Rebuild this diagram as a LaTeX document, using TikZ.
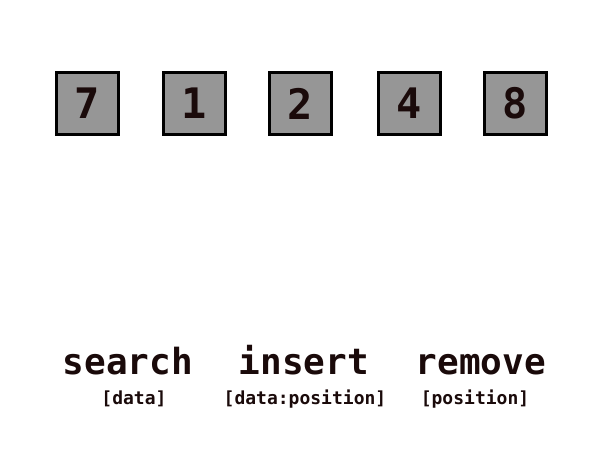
\documentclass[tikz,border=0pt]{standalone}
\usepackage{fontspec}
\setmonofont{DejaVu Sans Mono}
\definecolor{boxgray}{HTML}{969696}
\definecolor{ink}{HTML}{1A0A0A}
\begin{document}
\begin{tikzpicture}[x=1pt,y=-1pt,
  cell/.style={draw=black,line width=3pt,fill=boxgray,minimum width=62pt,minimum height=62pt,inner sep=0pt,
    font=\ttfamily\bfseries\fontsize{42}{42}\selectfont,text=ink},
  op/.style={font=\ttfamily\bfseries\fontsize{36}{36}\selectfont,text=ink,anchor=base,inner sep=0pt},
  arg/.style={font=\ttfamily\bfseries\fontsize{18}{18}\selectfont,text=ink,anchor=base,inner sep=0pt}]
\useasboundingbox (0,0) rectangle (600,470);
\node[cell] (c1) at (87.5,103.5) {7};
\node[cell] (c2) at (194.5,103.5) {1};
\node[cell] (c3) at (300.5,103.5) {2};
\node[cell] (c4) at (409.5,103.5) {4};
\node[cell] (c5) at (515.5,103.5) {8};
\node[op] (search) at (128,375) {search};
\node[op] (insert) at (304,375) {insert};
\node[op] (remove) at (481,375) {remove};
\node[arg] (a1) at (134,404) {[data]};
\node[arg] (a2) at (305,404) {[data:position]};
\node[arg] (a3) at (475,404) {[position]};
\end{tikzpicture}
\end{document}
